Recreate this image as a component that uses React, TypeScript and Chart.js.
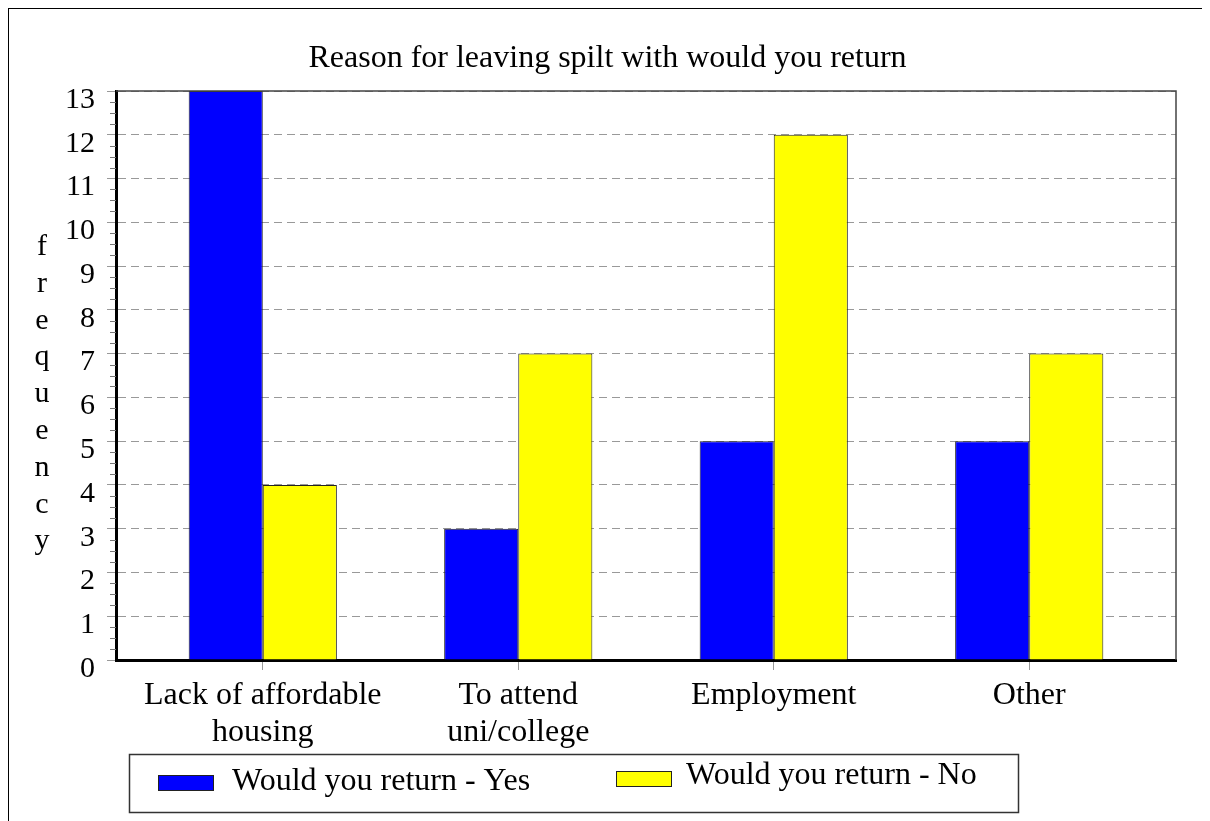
import React, { useEffect, useRef } from "react";
import { Chart, registerables } from "chart.js";

Chart.register(...registerables);

const TITLE = "Reason for leaving spilt with would you return";
const CATEGORY_LINES: string[][] = [
  ["Lack of affordable", "housing"],
  ["To attend", "uni/college"],
  ["Employment"],
  ["Other"],
];
const SERIES_NAMES = ["Would you return - Yes", "Would you return - No"];
const SERIES_COLORS = ["#0000FF", "#FFFF00"];
const YES_VALUES = [13, 3, 5, 5];
const NO_VALUES = [4, 7, 12, 7];
const Y_MIN = 0;
const Y_MAX = 13;
const Y_TITLE = "frequency";

const FONT = "'Liberation Serif', 'Times New Roman', Times, serif";

const framePlugin = {
  id: "frameExtras",
  afterDraw(chart: any) {
    const { ctx, chartArea } = chart;
    const y = chart.scales.y;
    ctx.save();
    // top and right frame
    ctx.strokeStyle = "#444";
    ctx.lineWidth = 1.5;
    ctx.beginPath();
    ctx.moveTo(chartArea.left, chartArea.top);
    ctx.lineTo(chartArea.right, chartArea.top);
    ctx.lineTo(chartArea.right, chartArea.bottom);
    ctx.stroke();
    // minor ticks
    ctx.strokeStyle = "#777";
    ctx.lineWidth = 1;
    for (let v = Y_MIN; v < Y_MAX; v += 1) {
      for (let q = 1; q < 4; q++) {
        const py = Math.round(y.getPixelForValue(v + q / 4)) + 0.5;
        ctx.beginPath();
        ctx.moveTo(chartArea.left - 6, py);
        ctx.lineTo(chartArea.left, py);
        ctx.stroke();
      }
    }
    // y axis title, stacked letters
    ctx.fillStyle = "#000";
    ctx.font = `30px ${FONT}`;
    ctx.textAlign = "center";
    ctx.textBaseline = "alphabetic";
    const letters = Y_TITLE.split("");
    letters.forEach((ch, i) => {
      ctx.fillText(ch, 33, 246 + i * 36.8);
    });
    // legend
    const lx = 120, ly = 745, lw = 889, lh = 58;
    ctx.strokeStyle = "#333";
    ctx.lineWidth = 1.5;
    ctx.strokeRect(lx + 0.5, ly + 0.5, lw, lh);
    const items = [
      { sx: 149, sy: 766, tx: 223, ty: 781 },
      { sx: 607, sy: 762, tx: 677, ty: 775 },
    ];
    chart.data.datasets.forEach((ds: any, i: number) => {
      const it = items[i];
      ctx.fillStyle = ds.backgroundColor;
      ctx.fillRect(it.sx, it.sy, 55, 15);
      ctx.strokeStyle = "#222";
      ctx.lineWidth = 1;
      ctx.strokeRect(it.sx + 0.5, it.sy + 0.5, 55, 15);
      ctx.fillStyle = "#000";
      ctx.font = `32px ${FONT}`;
      ctx.textAlign = "left";
      ctx.textBaseline = "alphabetic";
      ctx.fillText(ds.label, it.tx, it.ty);
    });
    ctx.restore();
  },
};

export default function App() {
  const ref = useRef<HTMLCanvasElement | null>(null);

  useEffect(() => {
    document.body.style.overflow = "hidden";
    const canvas = ref.current;
    if (!canvas) return;
    const toPoints = (vals: number[]) => vals.map((v, i) => ({ x: i, y: v }));
    const chart = new Chart(canvas, {
      type: "bar",
      data: {
        datasets: [
          {
            label: SERIES_NAMES[0],
            data: toPoints(YES_VALUES),
            backgroundColor: SERIES_COLORS[0],
            borderColor: "#222",
            borderWidth: 1,
          },
          {
            label: SERIES_NAMES[1],
            data: toPoints(NO_VALUES),
            backgroundColor: SERIES_COLORS[1],
            borderColor: "#222",
            borderWidth: 1,
          },
        ],
      },
      options: {
        responsive: false,
        animation: false,
        devicePixelRatio: 1,
        categoryPercentage: 0.58,
        barPercentage: 1,
        layout: { padding: { left: 30, right: 34, top: 0, bottom: 0 } },
        plugins: {
          legend: { display: false },
          tooltip: { enabled: false },
          title: {
            display: true,
            text: TITLE,
            color: "#000",
            font: { family: FONT, size: 32, weight: "normal", lineHeight: 1.2 },
            padding: { top: 30, bottom: 13.6 },
          },
        },
        scales: {
          x: {
            type: "linear",
            offset: false,
            min: -0.5745,
            max: 3.5745,
            afterBuildTicks: (scale: any) => {
              scale.ticks = CATEGORY_LINES.map((_, i) => ({ value: i }));
            },
            afterFit: (scale: any) => {
              scale.height = 161;
            },
            ticks: {
              autoSkip: false,
              maxRotation: 0,
              minRotation: 0,
              padding: 7,
              color: "#000",
              font: { family: FONT, size: 32, lineHeight: 1.15 },
              callback: (value: any) => CATEGORY_LINES[Math.round(Number(value))] ?? "",
            },
            grid: {
              display: true,
              offset: false,
              drawOnChartArea: false,
              drawTicks: true,
              tickLength: 10,
              tickColor: "#999",
              color: "#999",
            },
            border: { display: true, color: "#000", width: 3 },
          },
          y: {
            min: Y_MIN,
            max: Y_MAX,
            afterFit: (scale: any) => {
              scale.width = 77;
            },
            ticks: {
              stepSize: 1,
              padding: 12,
              labelOffset: 9,
              color: "#000",
              font: { family: FONT, size: 30 },
            },
            grid: {
              color: "#999",
              lineWidth: 1,
              drawTicks: true,
              tickLength: 9,
              tickColor: "#999",
            },
            border: { display: true, color: "#000", width: 3, dash: [8, 5] },
          },
        },
      },
      plugins: [framePlugin],
    } as any);
    return () => chart.destroy();
  }, []);

  return (
    <div
      style={{
        width: 1202,
        height: 813,
        boxSizing: "border-box",
        borderLeft: "1px solid #000",
        borderTop: "1px solid #000",
        background: "#fff",
      }}
    >
      <canvas ref={ref} width={1201} height={812} style={{ display: "block" }} />
    </div>
  );
}
